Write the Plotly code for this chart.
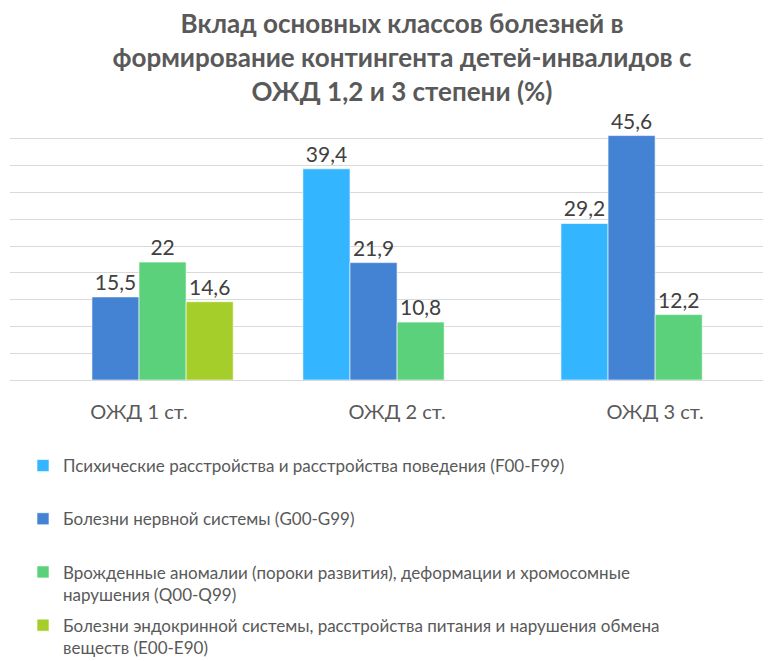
import plotly.graph_objects as go

categories = ["ОЖД 1 ст.", "ОЖД 2 ст.", "ОЖД 3 ст."]

series_names = [
    "Психические расстройства и расстройства поведения (F00-F99)<br> ",
    "Болезни нервной системы (G00-G99)<br> ",
    "Врожденные аномалии (пороки развития), деформации и хромосомные<br>нарушения (Q00-Q99)",
    "Болезни эндокринной системы, расстройства питания и нарушения обмена<br>веществ (E00-E90)",
]
psych = [None, 39.4, 29.2]
nervous = [15.5, 21.9, 45.6]
congenital = [22, 10.8, 12.2]
endocrine = [14.6, None, None]
colors = ["#33B5FF", "#4483D3", "#5BD17B", "#A6CE2A"]


def fmt(v):
    if v is None:
        return ""
    return ("%g" % v).replace(".", ",")


fig = go.Figure()
for i, (name, vals) in enumerate(zip(series_names, [psych, nervous, congenital, endocrine])):
    fig.add_trace(go.Bar(
        x=categories, y=vals, name=name,
        marker=dict(color=colors[i], line=dict(color="rgba(255,255,255,0.6)", width=1)),
        text=[fmt(v) for v in vals], textposition="outside",
        textfont=dict(size=21, color="#404040", family="Lato"),
        cliponaxis=False, legendgroup="g%d" % i,
    ))

# the page body adds an 8px offset, so positions below are shifted up/left by 8
fig.update_layout(
    width=771, height=661,
    margin=dict(l=2, r=0, t=104, b=289, autoexpand=False),
    paper_bgcolor="white", plot_bgcolor="white",
    font=dict(family="Lato", color="#595959"),
    barmode="group", bargap=0.27, bargroupgap=0,
    title=dict(
        text="<b>Вклад основных классов болезней в<br>формирование контингента детей-инвалидов с<br>ОЖД 1,2 и 3 степени (%)</b>",
        x=394 / 771, xanchor="center", xref="container",
        y=1 - 25 / 661, yanchor="middle", yref="container",
        font=dict(size=26, color="#595959", family="Lato"),
    ),
    legend=dict(
        orientation="v", x=15 / 771, xanchor="left", xref="container",
        y=1 - 440 / 661, yanchor="top", yref="container",
        valign="top", tracegroupgap=6, itemwidth=30,
        font=dict(size=17, color="#595959", family="Lato"),
    ),
    showlegend=True,
)
fig.update_xaxes(
    range=[-0.5, 2.48], showgrid=False, showline=False, ticks="",
    ticklabelstandoff=18, tickangle=0,
    tickfont=dict(size=20, color="#595959", family="Lato"),
)
fig.update_yaxes(
    range=[0, 50], dtick=5, showgrid=True, gridcolor="#D9D9D9", gridwidth=1,
    showticklabels=False, zeroline=True, zerolinecolor="#D9D9D9", zerolinewidth=1,
)

fig.write_html("out.html")
